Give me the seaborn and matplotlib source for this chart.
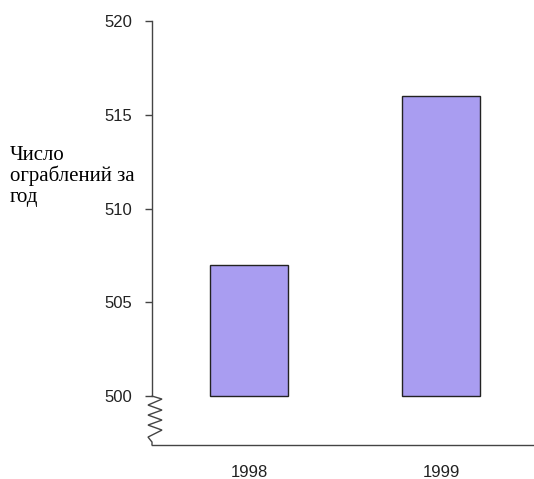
import matplotlib
matplotlib.use("Agg")
import matplotlib.pyplot as plt
import seaborn as sns
import pandas as pd

years = ["1998", "1999"]
robberies = [507, 516]
y_ticks = [500, 505, 510, 515, 520]
y_label_lines = ["Число", "ограблений за", "год"]

baseline = 500
y_top = 520
y_floor = 497.39

sns.set_style("white")
plt.rcParams["font.family"] = ["Liberation Sans", "DejaVu Sans"]

W, H = 534, 479
fig = plt.figure(figsize=(W / 100, H / 100), dpi=100)
ax = fig.add_axes([152 / W, 1 - 445 / H, (533 - 152) / W, (445 - 21) / H])

df = pd.DataFrame({"year": years, "count": robberies})
sns.barplot(data=df, x="year", y="count", ax=ax, color="#a99df1",
            saturation=1, width=0.406, edgecolor="#222222", linewidth=1)

# bars start from the broken-axis baseline
for patch, v in zip(ax.patches, robberies):
    patch.set_y(baseline)
    patch.set_height(v - baseline)

ax.set_xlim(-0.505, 1.479)
ax.set_ylim(y_floor, y_top)
ax.set_yticks(y_ticks)
ax.set_yticklabels([str(t) for t in y_ticks], fontsize=12, color="#222222")
ax.tick_params(axis="y", left=True, length=5, width=1, color="#444444", pad=9)
ax.tick_params(axis="x", bottom=False, labelsize=12, labelcolor="#222222", pad=11)
ax.set_xlabel("")
ax.set_ylabel("")

for s in ["top", "right"]:
    ax.spines[s].set_visible(False)
ax.spines["left"].set_bounds(baseline, y_top)
ax.spines["left"].set_color("#444444")
ax.spines["bottom"].set_color("#444444")
ax.spines["left"].set_linewidth(1)
ax.spines["bottom"].set_linewidth(1)

# zigzag break marker between baseline and the bottom axis
px = 1 / 192.0
py = 1 / 18.75
x0 = -0.505
zx = [0, 10, -4, 10, -4, 10, -4, 10, -4, 0, 0]
zy = [396, 399, 405, 410, 415, 420, 425, 430, 437, 442, 445]
ax.plot([x0 + dx * px for dx in zx], [baseline - (y - 396) * py for y in zy],
        color="#444444", lw=1, clip_on=False, solid_joinstyle="miter")

# horizontal axis title, one line at a time
for line, base_px in zip(y_label_lines, [160, 181, 202]):
    fig.text(10 / W, 1 - base_px / H, line, ha="left", va="baseline",
             fontsize=15, family=["Liberation Serif", "DejaVu Serif"],
             color="#000000")

fig.savefig("out.png", dpi=100, facecolor="white")
